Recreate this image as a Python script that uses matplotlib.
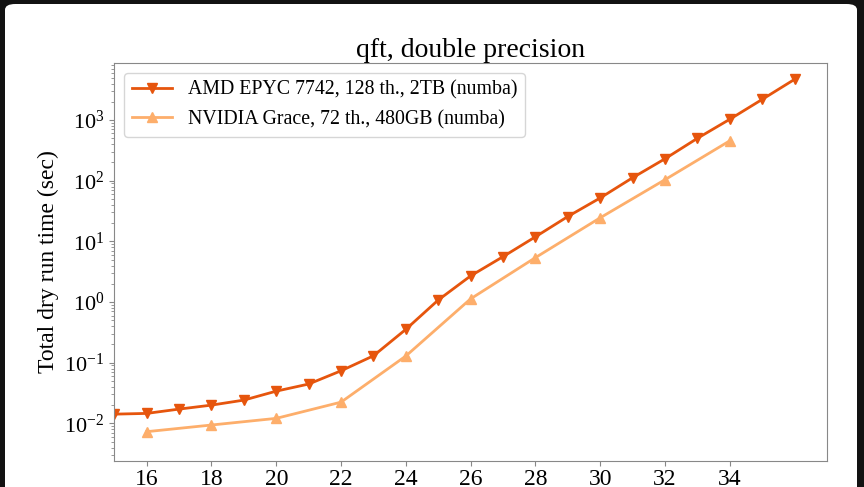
import matplotlib.pyplot as plt
from matplotlib.patches import FancyBboxPatch
import numpy as np

plt.rcParams['font.family'] = ['Liberation Serif', 'DejaVu Serif']
plt.rcParams['mathtext.fontset'] = 'stix'

# qubits
n_amd = [15, 16, 17, 18, 19, 20, 21, 22, 23, 24, 25, 26, 27, 28, 29, 30, 31, 32, 33, 34, 35, 36]
t_amd = [0.0142, 0.0146, 0.0172, 0.0200, 0.0242, 0.034, 0.0445, 0.0736, 0.130, 0.355, 1.08, 2.7,
         5.6, 11.9, 25.7, 52, 112, 230, 500, 1030, 2190, 4690]
n_grace = [16, 18, 20, 22, 24, 26, 28, 30, 32, 34]
t_grace = [0.0073, 0.0094, 0.0121, 0.0224, 0.129, 1.13, 5.4, 24.5, 104, 455]

lab_amd = 'AMD EPYC 7742, 128 th., 2TB (numba)'
lab_grace = 'NVIDIA Grace, 72 th., 480GB (numba)'

fig = plt.figure(figsize=(8.64, 4.87), dpi=100)
fig.patch.set_facecolor('#121212')
# white card behind the plot
card = FancyBboxPatch((5/864, -0.1), 852/864, 1.1 - 4/487, boxstyle='round,pad=0,rounding_size=0.012',
                      transform=fig.transFigure, facecolor='white', edgecolor='none', zorder=-10)
fig.patches.append(card)

ax = fig.add_axes([114.3/864, 1 - 461/487, (827 - 114.3)/864, (461 - 62.7)/487])
ax.plot(n_amd, t_amd, color='#e6550d', marker='v', markersize=7, linewidth=2, label=lab_amd)
ax.plot(n_grace, t_grace, color='#fdae6b', marker='^', markersize=7, linewidth=2, label=lab_grace)

ax.set_yscale('log')
ax.set_xlim(15, 37)
ax.set_ylim(10**-2.62, 10**3.945)
ax.set_xticks(np.arange(16, 35, 2))
ax.tick_params(colors='#888888', labelcolor='black')
ax.tick_params(which='minor', colors='#888888')
ax.tick_params(axis='x', pad=2, labelsize=17)
ax.tick_params(axis='y', labelsize=16)
for s in ax.spines.values():
    s.set_color('#888888')

ax.set_title('qft, double precision', fontsize=20, pad=4)
ax.set_ylabel('Total dry run time (sec)', fontsize=17)
ax.yaxis.set_label_coords(-0.078, 0.5)
ax.legend(loc='upper left', fontsize=14.3)

plt.savefig('out.png', dpi=100, facecolor=fig.get_facecolor())
